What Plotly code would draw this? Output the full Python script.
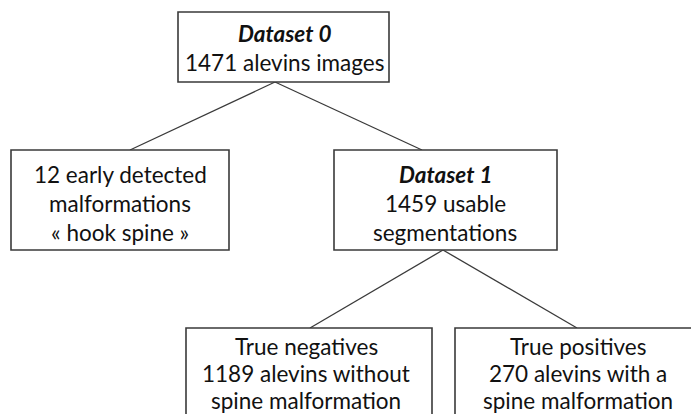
import plotly.graph_objects as go

# ---- content ----
node_names = ["root", "early", "ds1", "tn", "tp"]
node_lines = [
    ["<b><i>Dataset 0</i></b>", "1471 alevins images"],
    ["12 early detected", "malformations", "« hook spine »"],
    ["<b><i>Dataset 1</i></b>", "1459 usable", "segmentations"],
    ["True negatives", "1189 alevins without", "spine malformation"],
    ["True positives", "270 alevins with a", "spine malformation"],
]
edges = [("root", "early"), ("root", "ds1"), ("ds1", "tn"), ("ds1", "tp")]

# ---- layout (pixel space, y downwards) ----
W, H = 691, 414
boxes = {
    "root": (178, 12, 389, 82),
    "early": (11, 150, 229, 250),
    "ds1": (334, 150, 557, 250),
    "tn": (186, 328, 432, 430),
    "tp": (455, 328, 705, 430),
}
text_cx = {"root": 284, "early": 120, "ds1": 445, "tn": 306, "tp": 578}
text_y0 = {"root": 33, "early": 174, "ds1": 174, "tn": 346, "tp": 346}
line_gap = {"root": 29, "early": 29, "ds1": 29, "tn": 27, "tp": 27}
edge_start = {"root": (275, 82), "ds1": (443, 250)}
edge_end = {"early": (130, 150), "ds1": (422, 150), "tn": (310, 328), "tp": (577, 328)}

LINE = "#3a3a3a"
FONT = "Lato"
FS = 22.5

fig = go.Figure()
shapes = []
annotations = []

for a, b in edges:
    x0, y0 = edge_start[a]
    x1, y1 = edge_end[b]
    shapes.append(dict(type="line", x0=x0, y0=y0, x1=x1, y1=y1,
                       xref="x", yref="y", line=dict(color=LINE, width=1.3)))

for name, lines in zip(node_names, node_lines):
    x0, y0, x1, y1 = boxes[name]
    shapes.append(dict(type="rect", x0=x0, y0=y0, x1=x1, y1=y1, xref="x", yref="y",
                       line=dict(color=LINE, width=1.6), fillcolor="white", layer="above"))
    for i, t in enumerate(lines):
        annotations.append(dict(x=text_cx[name], y=text_y0[name] + i * line_gap[name],
                                xref="x", yref="y", text=t, showarrow=False,
                                xanchor="center", yanchor="middle",
                                font=dict(family=FONT, size=FS, color="#111111")))

# invisible trace to anchor axes
fig.add_trace(go.Scatter(x=[0, W], y=[0, H], mode="markers",
                         marker=dict(opacity=0), hoverinfo="skip", showlegend=False))

fig.update_layout(
    width=W, height=H,
    margin=dict(l=0, r=0, t=0, b=0),
    paper_bgcolor="white", plot_bgcolor="white",
    xaxis=dict(range=[0, W], visible=False, fixedrange=True),
    yaxis=dict(range=[H, 0], visible=False, fixedrange=True),
    shapes=shapes,
    annotations=annotations,
    showlegend=False,
)
fig.write_html("out.html", config={"displayModeBar": False},
               post_script="document.body.style.margin='0';document.body.style.overflow='hidden';")
